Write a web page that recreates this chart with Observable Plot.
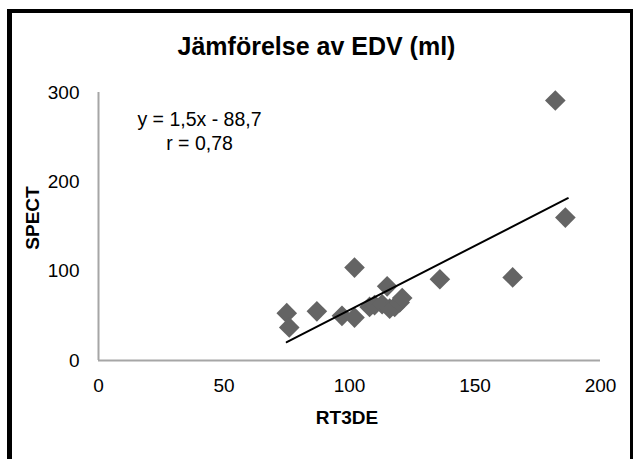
<!DOCTYPE html>
<html>
<head>
<meta charset="utf-8">
<script src="https://cdn.jsdelivr.net/npm/d3@7"></script>
<script src="https://cdn.jsdelivr.net/npm/@observablehq/plot@0.6"></script>
<style>
  html, body { margin: 0; padding: 0; background: #fff; }
  #wrap { position: relative; width: 633px; height: 459px; overflow: hidden; font-family: "Liberation Sans", Arial, sans-serif; }
  .bar { position: absolute; background: #000; }
  .txt { position: absolute; white-space: nowrap; color: #000; }
  #chart { position: absolute; left: 0; top: 0; }
</style>
</head>
<body>
<div id="wrap">
  <div id="chart"></div>
  <div class="txt" id="title" style="left:0;width:633px;top:32px;text-align:center;font-weight:bold;font-size:25px;">Jämförelse av EDV (ml)</div>
  <div class="txt" id="xlab" style="left:247px;width:200px;top:407px;text-align:center;font-weight:bold;font-size:19px;">RT3DE</div>
  <div class="txt" id="ylab" style="left:33px;top:218px;font-weight:bold;font-size:19px;transform:translate(-50%,-50%) rotate(-90deg);">SPECT</div>
  <div class="bar" style="left:7px;top:9px;width:5px;height:450px;"></div>
  <div class="bar" style="left:7px;top:9px;width:626px;height:4px;"></div>
  <div class="bar" style="left:630px;top:9px;width:3px;height:450px;"></div>
</div>
<script>
// Data
const rt3de = [75, 76, 87, 97, 102, 102, 108, 110, 113, 115, 116, 118, 120, 121, 136, 165, 182, 186];
const spect = [53, 37, 55, 50, 104, 48, 60, 62, 63, 83, 58, 60, 65, 70, 91, 93, 291, 160];
const trendX = [75, 187];
const trendY = [20.5, 181.7];
const xTicks = [0, 50, 100, 150, 200];
const yTicks = [0, 100, 200, 300];
const equation = "y = 1,5x - 88,7";
const corr = "r = 0,78";

const points = rt3de.map((x, i) => ({x, y: spect[i]}));
const trend = trendX.map((x, i) => ({x, y: trendY[i]}));

const chart = Plot.plot({
  width: 633,
  height: 459,
  marginLeft: 98,
  marginRight: 33,
  marginTop: 92,
  marginBottom: 99,
  style: { fontFamily: "Liberation Sans, Arial, sans-serif", fontSize: "19px", color: "#000", background: "transparent", overflow: "visible" },
  x: { domain: [0, 200], ticks: xTicks, tickSize: 0, tickPadding: 18, label: null, tickFormat: d => String(d) },
  y: { domain: [0, 300], ticks: yTicks, tickSize: 0, tickPadding: 19, label: null, tickFormat: d => String(d) },
  marks: [
    Plot.ruleY([0], { stroke: "#a6a6a6", strokeWidth: 2 }),
    Plot.ruleX([0], { stroke: "#a6a6a6", strokeWidth: 2 }),
    Plot.dot(points, { x: "x", y: "y", symbol: "diamond2", r: 9.3, fill: "#646464", stroke: "none" }),
    Plot.line(trend, { x: "x", y: "y", stroke: "#000", strokeWidth: 2 }),
    Plot.text([equation], { text: d => d, frameAnchor: "top-left", dx: 101, dy: 20, textAnchor: "middle", fontSize: 19.5, fill: "#000" }),
    Plot.text([corr], { text: d => d, frameAnchor: "top-left", dx: 101, dy: 44, textAnchor: "middle", fontSize: 19.5, fill: "#000" })
  ]
});
document.getElementById("chart").appendChild(chart);
</script>
</body>
</html>
